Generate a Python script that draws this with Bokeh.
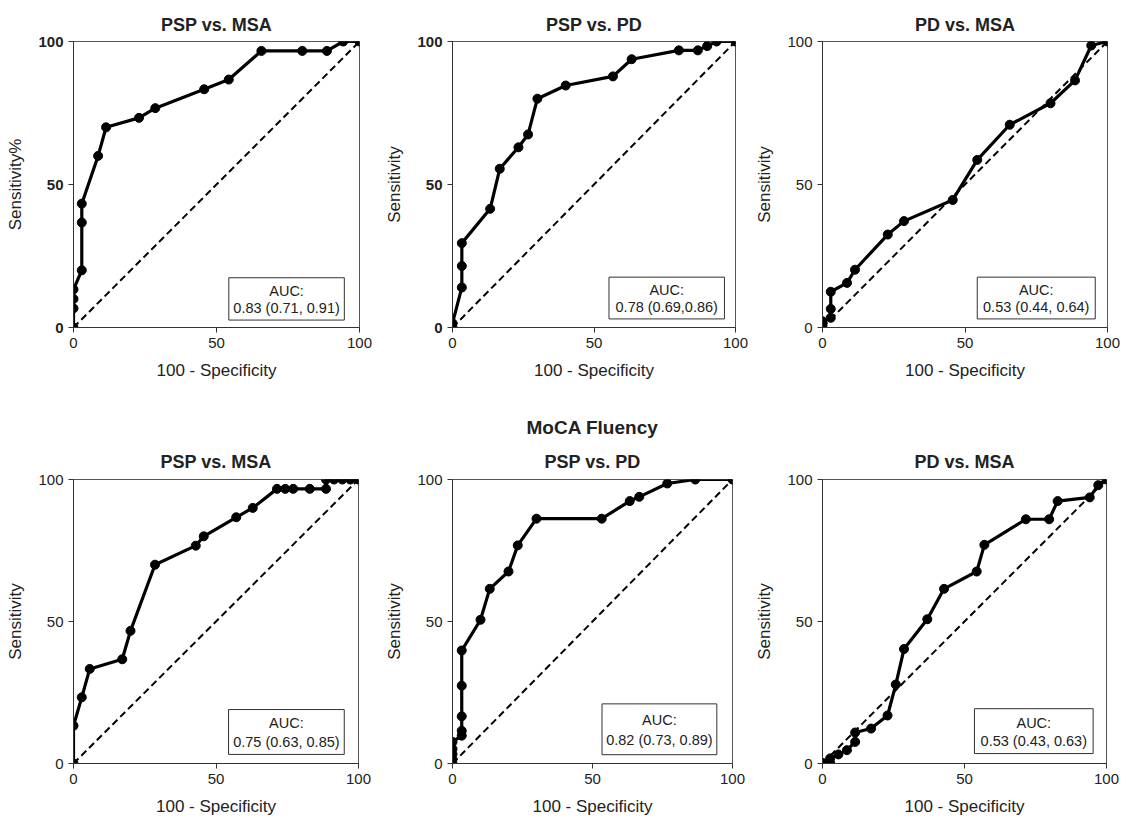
from bokeh.plotting import figure
from bokeh.models import Range1d, Title, FixedTicker
from bokeh.layouts import column, row
from bokeh.embed import file_html
from bokeh.resources import INLINE
from bokeh.core.properties import value

FONT = "Liberation Sans"

# ---------------- data (100 - specificity, sensitivity) ----------------
tl_x = [0, 0, 0, 0, 2.9, 2.9, 2.9, 8.6, 11.4, 22.9, 28.6, 45.7, 54.3, 65.7, 80.0, 88.6, 94.3, 100]
tl_y = [0, 6.7, 10.0, 13.3, 20.0, 36.7, 43.3, 60.0, 70.0, 73.3, 76.7, 83.3, 86.7, 96.7, 96.7, 96.7, 100, 100]

tm_x = [0, 0, 3.3, 3.3, 3.3, 13.3, 16.7, 23.3, 26.7, 30.0, 40.0, 56.7, 63.3, 80.0, 86.7, 90.0, 93.3, 100]
tm_y = [0, 1.5, 14.0, 21.5, 29.5, 41.5, 55.5, 63.0, 67.5, 80.0, 84.6, 87.8, 93.8, 96.9, 96.9, 98.4, 100, 100]

tr_x = [0, 0, 2.9, 2.9, 2.9, 8.6, 11.4, 22.9, 28.6, 45.7, 54.3, 65.7, 80.0, 88.6, 94.3, 100]
tr_y = [0.7, 2.2, 3.4, 6.5, 12.5, 15.6, 20.2, 32.5, 37.2, 44.6, 58.6, 70.9, 78.4, 86.4, 98.6, 100]

bl_x = [0, 0, 2.9, 5.7, 17.1, 20.0, 28.6, 42.9, 45.7, 57.1, 62.9, 71.4, 74.3, 77.1, 82.9, 88.6, 88.6, 91.4, 94.3, 97.1, 100]
bl_y = [0, 13.3, 23.3, 33.3, 36.7, 46.7, 70.0, 76.7, 80.0, 86.7, 90.0, 96.7, 96.7, 96.7, 96.7, 96.7, 100, 100, 100, 100, 100]

bm_x = [0, 0, 0, 0, 0, 3.3, 3.3, 3.3, 3.3, 3.3, 10.0, 13.3, 20.0, 23.3, 30.0, 53.3, 63.3, 66.7, 76.7, 86.7, 100]
bm_y = [0, 1.5, 3.3, 5.1, 7.6, 9.8, 11.5, 16.6, 27.4, 39.8, 50.6, 61.5, 67.6, 76.8, 86.2, 86.2, 92.4, 93.9, 98.6, 100, 100]

br_x = [0, 2.7, 2.7, 5.6, 8.6, 11.5, 11.5, 17.1, 22.9, 25.8, 28.7, 36.9, 42.8, 54.3, 57.0, 71.6, 79.8, 82.8, 94.1, 97.1, 100]
br_y = [0.2, 0.2, 1.8, 3.2, 4.7, 7.6, 10.9, 12.3, 16.9, 27.8, 40.3, 50.8, 61.5, 67.6, 77.0, 86.0, 86.0, 92.4, 93.7, 98.0, 100]

titles = ["PSP vs. MSA", "PSP vs. PD", "PD vs. MSA", "PSP vs. MSA", "PSP vs. PD", "PD vs. MSA"]
y_labels = ["Sensitivity%", "Sensitivity", "Sensitivity", "Sensitivity", "Sensitivity", "Sensitivity"]
x_label = "100 - Specificity"
auc_texts = ["0.83 (0.71, 0.91)", "0.78 (0.69,0.86)", "0.53 (0.44, 0.64)",
             "0.75 (0.63, 0.85)", "0.82 (0.73, 0.89)", "0.53 (0.43, 0.63)"]
group_title = "MoCA Fluency"
ticks = [0, 50, 100]
diag = [0, 100]


def make_panel(x, y, title, ylabel, auc, width, height, left, right, top, bottom,
               box, bold_y=False, extra_title=None, title_standoff=14):
    p = figure(width=width, height=height, x_range=Range1d(0, 100), y_range=Range1d(0, 100),
               output_backend="svg", toolbar_location=None, title=None,
               min_border_left=left, min_border_right=right,
               min_border_top=top, min_border_bottom=bottom)
    p.grid.visible = False
    p.outline_line_color = "#555555"
    p.outline_line_width = 1
    p.background_fill_color = "white"
    p.border_fill_color = "white"

    for ax, lab in ((p.xaxis[0], x_label), (p.yaxis[0], ylabel)):
        ax.ticker = FixedTicker(ticks=ticks)
        ax.minor_tick_line_color = None
        ax.major_tick_out = 5
        ax.major_tick_in = 0
        ax.axis_line_color = "#333333"
        ax.major_tick_line_color = "#333333"
        ax.major_label_text_font = FONT
        ax.major_label_text_font_size = "15px"
        ax.major_label_text_color = "#222222"
        ax.axis_label = lab
        ax.axis_label_text_font = FONT
        ax.axis_label_text_font_size = "17px"
        ax.axis_label_text_font_style = "normal"
        ax.axis_label_text_color = "#222222"
        ax.axis_label_standoff = 10
        ax.major_label_standoff = 5
    if bold_y:
        p.yaxis[0].major_label_text_font_style = "bold"

    t = Title(text=title, align="center", text_font=FONT, text_font_size="18px",
              text_font_style="bold", text_color="#222222", standoff=title_standoff)
    p.add_layout(t, "above")
    if extra_title:
        t2 = Title(text=extra_title, align="center", text_font=FONT, text_font_size="19px",
                   text_font_style="bold", text_color="#222222", standoff=9)
        p.add_layout(t2, "above")

    # chance line
    p.line(diag, diag, line_color="black", line_width=2, line_dash="7 4")
    # ROC curve
    p.line(x, y, line_color="black", line_width=3.2)
    p.scatter(x, y, size=9, fill_color="black", line_color="black")

    # AUC box
    x0, x1, y0, y1 = box
    p.quad(left=[x0], right=[x1], bottom=[y0], top=[y1], fill_color="white",
           line_color="#333333", line_width=1)
    cx = (x0 + x1) / 2
    p.text([cx], [y0 + (y1 - y0) * 0.69], text=["AUC:"], text_align="center",
           text_baseline="middle", text_font=value(FONT), text_font_size="14.5px",
           text_color="#222222")
    p.text([cx], [y0 + (y1 - y0) * 0.28], text=[auc], text_align="center",
           text_baseline="middle", text_font=value(FONT), text_font_size="14.5px",
           text_color="#222222")
    return p


p1 = make_panel(tl_x, tl_y, titles[0], y_labels[0], auc_texts[0], 380, 400, 73, 21, 41, 73,
                (54.3, 94.7, 2.6, 17.4), bold_y=True)
p2 = make_panel(tm_x, tm_y, titles[1], y_labels[1], auc_texts[1], 370, 400, 72, 15, 41, 73,
                (55.3, 96.1, 3.0, 17.6), bold_y=True)
p3 = make_panel(tr_x, tr_y, titles[2], y_labels[2], auc_texts[2], 381, 400, 72, 24, 41, 73,
                (54.3, 95.7, 3.0, 17.6))
p4 = make_panel(bl_x, bl_y, titles[3], y_labels[3], auc_texts[3], 380, 418, 73, 22, 79, 55,
                (54.4, 95.0, 3.2, 19.0), title_standoff=15)
p5 = make_panel(bm_x, bm_y, titles[4], y_labels[4], auc_texts[4], 370, 418, 72, 18, 79, 55,
                (53.4, 94.4, 3.1, 21.0), extra_title=group_title, title_standoff=15)
p6 = make_panel(br_x, br_y, titles[5], y_labels[5], auc_texts[5], 381, 418, 72, 25, 79, 55,
                (53.5, 95.3, 3.5, 19.3), title_standoff=15)

layout = column(row(p1, p2, p3), row(p4, p5, p6))

open("out.html", "w").write(file_html(layout, INLINE))
